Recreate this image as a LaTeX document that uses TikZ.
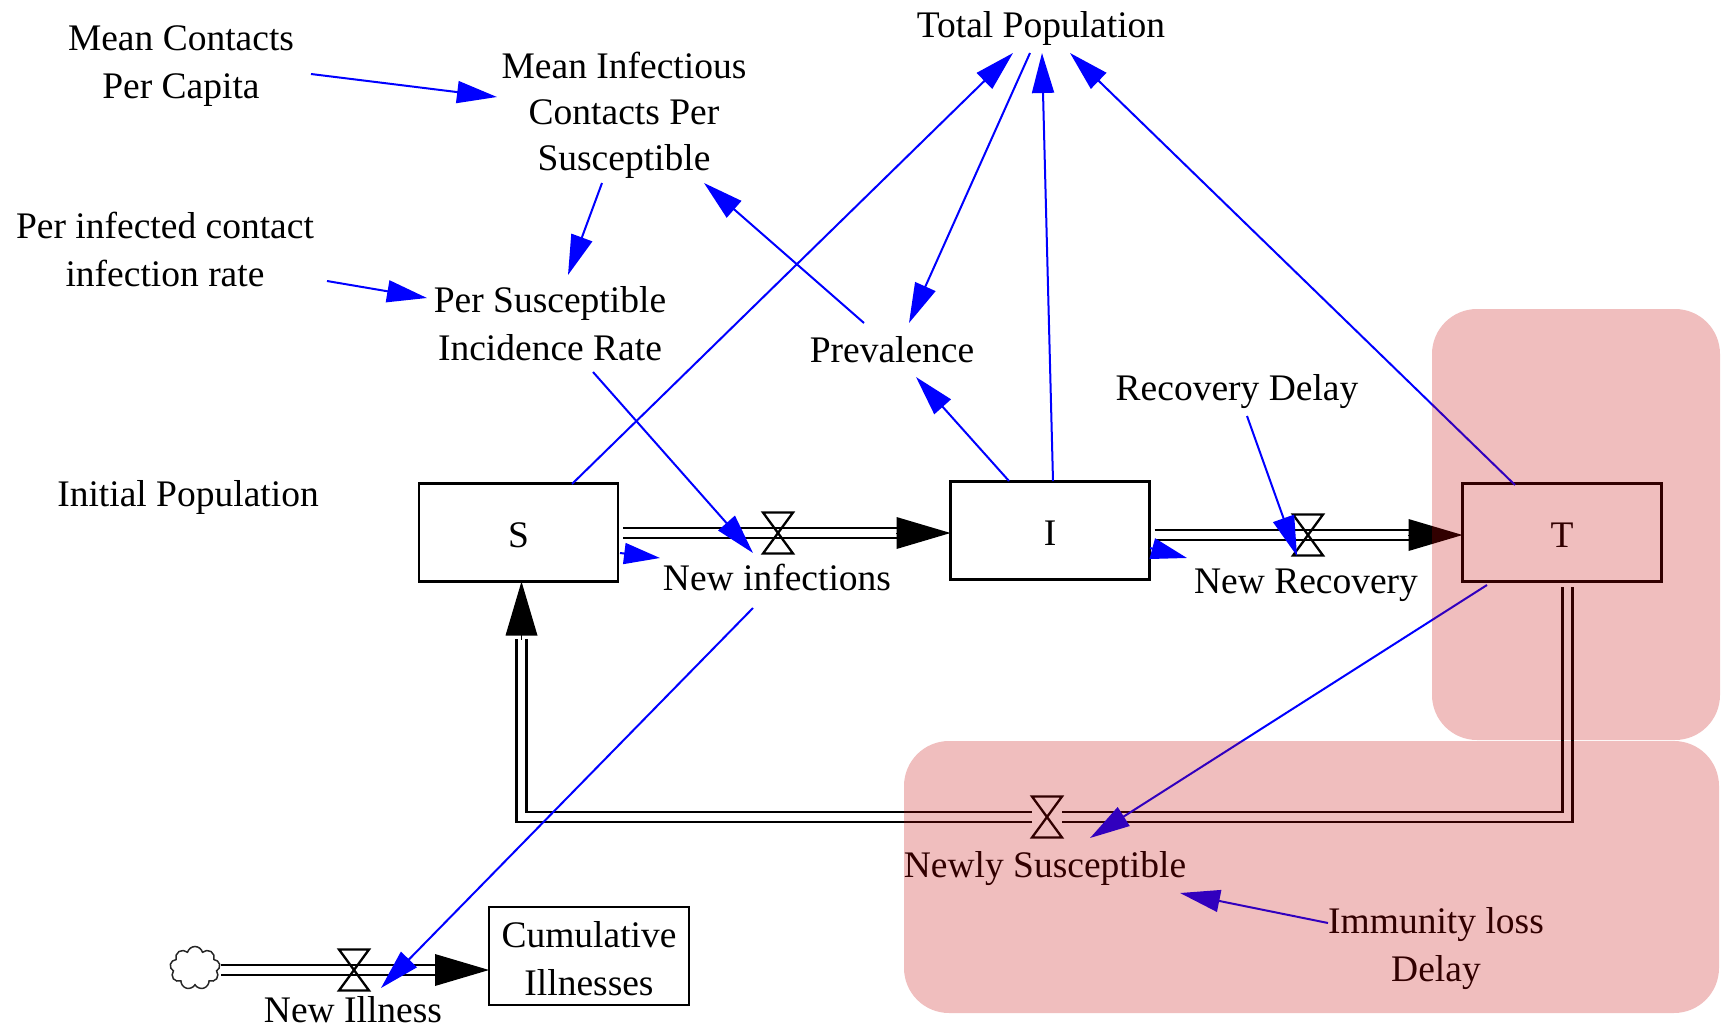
\documentclass[tikz,border=0pt]{standalone}
\usepackage{fontspec}
\setmainfont{Liberation Serif}
\usetikzlibrary{arrows.meta,shapes.symbols,calc}
\definecolor{infoblue}{RGB}{0,0,255}
\definecolor{zonered}{RGB}{196,0,0}
\newcommand{\ml}[1]{\begin{tabular}[t]{@{}c@{}}#1\end{tabular}}
\newcommand{\mltight}[1]{{\renewcommand{\arraystretch}{0.96}\begin{tabular}[t]{@{}c@{}}#1\end{tabular}}}
\begin{document}
\begin{tikzpicture}[x=1pt,y=-1pt,
  every node/.style={inner sep=0pt, outer sep=0pt},
  txt/.style={font=\fontsize{37.5}{48}\selectfont},
  lbl/.style={txt, anchor=base},
  stock/.style={txt, draw, line width=2.7pt, minimum width=199pt, minimum height=98pt, text height=29pt, text depth=0pt},
  valvenode/.style={minimum width=30pt, minimum height=41pt},
  valveline/.style={line width=2.3pt, line join=miter},
  pipe/.style={draw, line width=2.6pt, double=white, double distance=7.4pt},
  flowhead/.style={line width=0pt, -{Triangle[length=54pt,width=32pt]}},
  info/.style={draw=infoblue, line width=2pt, -{Triangle[length=40pt,width=22pt]}},
  shortinfo/.style={draw=infoblue, line width=2pt, -{Triangle[length=36pt,width=21pt]}},
  zone/.style={fill=zonered, opacity=0.255, rounded corners=45pt}]

\useasboundingbox (0,0) rectangle (1725,1028);

% stocks
\node[stock] (S) at (518.5,532.5) {S};
\node[stock] (I) at (1050,530.5) {I};
\node[stock] (T) at (1562,532.5) {T};
\node[stock, minimum width=200pt, text height=30pt, text depth=48pt] (C) at (589,956) {\ml{Cumulative\\Illnesses}};

% valves
\node[valvenode] (v1) at (778,533) {};
\node[valvenode] (v2) at (1308,535) {};
\node[valvenode] (v3) at (1047,817) {};
\node[valvenode] (v4) at (354,970) {};

% cloud
\node[cloud, draw=black!85, cloud puffs=9, aspect=1.15, minimum width=50pt, minimum height=43pt, line width=1.5pt] (cl) at (195,968) {};

% labels
\node[lbl] (tp) at (1041,37) {Total Population};
\node[lbl] (mcp) at (181,50) {\ml{Mean Contacts\\Per Capita}};
\node[lbl] (mic) at (624,78) {\mltight{Mean Infectious\\Contacts Per\\Susceptible}};
\node[lbl] (pic) at (165,238) {\ml{Per infected contact\\infection rate}};
\node[lbl] (psi) at (550,312) {\ml{Per Susceptible\\Incidence Rate}};
\node[lbl] (prev) at (892,362) {Prevalence};
\node[lbl] (rd) at (1237,400) {Recovery Delay};
\node[lbl] (ip) at (188,506) {Initial Population};
\node[lbl] (ni) at (777,590) {New infections};
\node[lbl] (nr) at (1306,593) {New Recovery};
\node[lbl] (ns) at (1045,877) {Newly Susceptible};
\node[lbl] (ild) at (1436,933) {\ml{Immunity loss\\Delay}};
\node[lbl] (nil) at (353,1022) {New Illness};

% flow pipes
\coordinate (f1a) at ($(S.east|-v1)+(5,0)$);
\coordinate (f1b) at (898,533);
\draw[pipe] (f1a) -- (f1b);
\draw[flowhead] (f1b) -- (I.west|-v1);

\coordinate (f2a) at ($(I.east|-v2)+(5,0)$);
\coordinate (f2b) at (1409,535);
\draw[pipe] (f2a) -- (f2b);
\draw[flowhead] (f2b) -- (T.west|-v2);

\coordinate (f3a) at (1567.5,587);
\coordinate (f3b) at (521.5,639);
\draw[pipe] (f3a) |- (v3) -| (f3b);
\draw[flowhead] (f3b) -- (S.south-|f3b);

\coordinate (f4a) at ($(cl.east|-v4)+(2,0)$);
\coordinate (f4b) at (437,970);
\draw[pipe] (f4a) -- (f4b);
\draw[flowhead] (f4b) -- (C.west|-v4);

% valve glyphs
\foreach \v in {v1,v2,v3,v4}
  \draw[valveline] (\v.north west) -- (\v.north east) -- (\v.south west) -- (\v.south east) -- cycle;

% info link end points
\coordinate (mcpE) at (311,74);   \coordinate (micW) at (497,97);
\coordinate (micS) at (602,183);  \coordinate (psiN) at (568,275);
\coordinate (picE) at (327,281);  \coordinate (psiW) at (427,298);
\coordinate (psiS) at (593,372);  \coordinate (v1in) at (753,553);
\coordinate (Stop) at (572,484);  \coordinate (tpSW) at (1013,53);
\coordinate (tpS1) at (1030,53);  \coordinate (prevN) at (909,323);
\coordinate (Itop) at (1053,481); \coordinate (tpS) at (1042,53);
\coordinate (Ttop) at (1515,485); \coordinate (tpSE) at (1070,53);
\coordinate (prevNW) at (864,323); \coordinate (micSE) at (704,183);
\coordinate (ItopL) at (1009,481); \coordinate (prevSE) at (916,377);
\coordinate (rdS) at (1247,416);  \coordinate (v2in) at (1297,556);
\coordinate (Sside) at (620,553); \coordinate (niW) at (660,558);
\coordinate (Iside) at (1150,548); \coordinate (nrW) at (1187,558);
\coordinate (niS) at (753,608);   \coordinate (v4in) at (381,988);
\coordinate (Tbot) at (1487,585); \coordinate (v3in) at (1090,838);
\coordinate (ildW) at (1328,923); \coordinate (nsSE) at (1180,893);

% info links
\draw[info] (mcpE) -- (micW);
\draw[info] (micS) -- (psiN);
\draw[info] (picE) -- (psiW);
\draw[info] (psiS) -- (v1in);
\draw[info] (Stop) -- (tpSW);
\draw[info] (tpS1) -- (prevN);
\draw[info] (Itop) -- (tpS);
\draw[info] (Ttop) -- (tpSE);
\draw[info] (prevNW) -- (micSE);
\draw[info] (ItopL) -- (prevSE);
\draw[info] (rdS) -- (v2in);
\draw[shortinfo] (Sside) -- (niW);
\draw[shortinfo] (Iside) -- (nrW);
\draw[info] (niS) -- (v4in);
\draw[info] (Tbot) -- (v3in);
\draw[info] (ildW) -- (nsSE);

% highlighted zones (translucent overlay)
\fill[zone] (1432,309) rectangle (1720,740);
\fill[zone] (904,741) rectangle (1719,1013);
\end{tikzpicture}
\end{document}
